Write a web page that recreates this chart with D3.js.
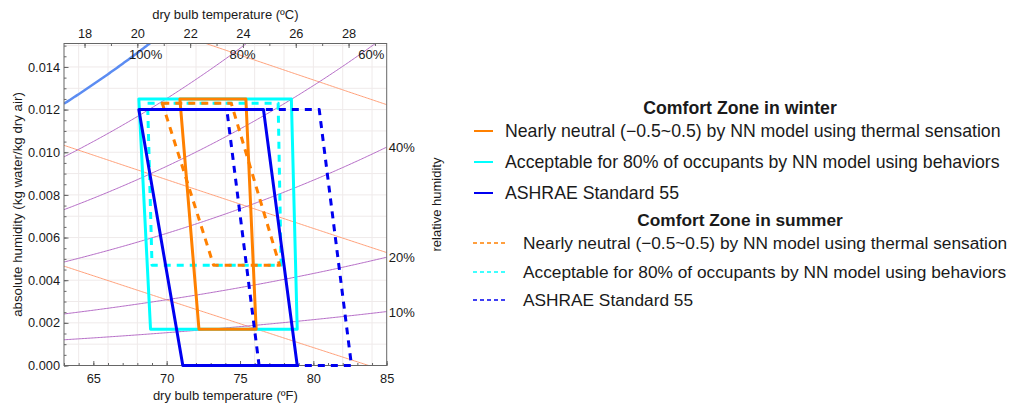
<!DOCTYPE html>
<html>
<head>
<meta charset="utf-8">
<script src="https://cdn.jsdelivr.net/npm/d3@7"></script>
<style>
  body { margin: 0; background: #fff; }
  text { font-family: "Liberation Sans", Arial, sans-serif; fill: #1a1a1a; }
</style>
</head>
<body>
<svg id="chart" width="1009" height="403"></svg>
<script>
// ---- axis ranges and ticks ----
const tempDomainF = [63, 85];
const humidityDomain = [0, 0.0151];
const fahrenheitTicks = [65, 70, 75, 80, 85];
const celsiusTicks = [18, 20, 22, 24, 26, 28];
const humidityTicks = [0, 0.002, 0.004, 0.006, 0.008, 0.010, 0.012, 0.014];

// ---- psychrometric reference lines ----
const rhLevels = [1.0, 0.8, 0.6, 0.4, 0.2, 0.1];
const rhTopLabels = ["100%", "80%", "60%"];
const rhSideLabels = ["40%", "20%", "10%"];
const wetBulbF = [50, 60, 70];

// ---- comfort zones: [dry bulb °F, humidity ratio kg/kg] ----
const winterNeutral    = [[70.9, 0.0125], [75.4, 0.0125], [76.1, 0.0017], [72.2, 0.0017]];
const winterAcceptable = [[68.1, 0.0125], [78.5, 0.0125], [78.9, 0.0017], [68.9, 0.0017]];
const winterAshrae     = [[68.1, 0.0120], [76.6, 0.0120], [78.9, 0.0], [71.1, 0.0]];
const summerNeutral    = [[69.7, 0.0123], [74.4, 0.0123], [77.7, 0.0047], [73.2, 0.0047]];
const summerAcceptable = [[68.7, 0.0123], [77.6, 0.0123], [77.8, 0.0047], [69.0, 0.0047]];
const summerAshrae     = [[74.1, 0.0120], [80.4, 0.0120], [82.6, 0.0], [76.3, 0.0]];

const zoneNames = [
  "Nearly neutral (\u22120.5~0.5) by NN model using thermal sensation",
  "Acceptable for 80% of occupants by NN model using behaviors",
  "ASHRAE Standard 55"
];
const zoneColors = ["#ff8000", "#00ffff", "#0000f0"];

// ---- layout ----
const svg = d3.select("#chart");
const plot = { left: 64, right: 386.7, top: 43.5, bottom: 365.5 };

const fToC = f => (f - 32) * 5 / 9;

const x = d3.scaleLinear().domain(tempDomainF).range([plot.left, plot.right]);
const xc = d3.scaleLinear().domain(tempDomainF.map(fToC)).range([plot.left, plot.right]);
const y = d3.scaleLinear().domain(humidityDomain).range([plot.bottom, plot.top]);

// psychrometric relations (sea level)
const P = 101.325;
const psat = tc => 0.61094 * Math.exp(17.625 * tc / (tc + 243.04));
const wFromRH = (tf, phi) => { const pv = phi * psat(fToC(tf)); return 0.622 * pv / (P - pv); };
const wFromWetBulb = (tf, twbF) => {
  const t = fToC(tf), tw = fToC(twbF);
  const ws = 0.622 * psat(tw) / (P - psat(tw));
  return ((2501 - 2.326 * tw) * ws - 1.006 * (t - tw)) / (2501 + 1.86 * t - 4.186 * tw);
};

svg.append("defs").append("clipPath").attr("id", "plotClip")
  .append("rect")
  .attr("x", plot.left).attr("y", plot.top)
  .attr("width", plot.right - plot.left).attr("height", plot.bottom - plot.top);

// faint grid
const grid = svg.append("g").attr("stroke", "#efeaea").attr("stroke-width", 1);
d3.range(64, 85, 2).forEach(t => grid.append("line")
  .attr("x1", x(t)).attr("x2", x(t)).attr("y1", plot.top).attr("y2", plot.bottom));
d3.range(0.001, 0.0151, 0.001).forEach(w => grid.append("line")
  .attr("x1", plot.left).attr("x2", plot.right).attr("y1", y(w)).attr("y2", y(w)));

const curves = svg.append("g").attr("clip-path", "url(#plotClip)");
const tSamples = d3.range(tempDomainF[0], tempDomainF[1] + 0.001, 0.1);
const line = d3.line().x(d => x(d[0])).y(d => y(d[1]));

// wet-bulb lines
wetBulbF.forEach(twb => {
  curves.append("path")
    .attr("d", line(tSamples.map(t => [t, wFromWetBulb(t, twb)])))
    .attr("fill", "none").attr("stroke", "#ffa07a").attr("stroke-width", 1);
});

// relative humidity curves
rhLevels.forEach(phi => {
  curves.append("path")
    .attr("d", line(tSamples.map(t => [t, wFromRH(t, phi)])))
    .attr("fill", "none")
    .attr("stroke", phi === 1 ? "#5b8cf2" : "#b56cc6")
    .attr("stroke-width", phi === 1 ? 2.5 : 1);
});

// labels of the RH curves along the top edge and right edge
const topW = humidityDomain[1];
rhTopLabels.forEach((lab, i) => {
  const phi = rhLevels[i];
  // dry bulb temperature where the curve meets the top edge
  const pv = topW * P / (0.622 + topW) / phi;
  const L = Math.log(pv / 0.61094);
  const tc = L * 243.04 / (17.625 - L);
  svg.append("text").attr("x", xc(tc) - 4).attr("y", plot.top + 15)
    .attr("text-anchor", "middle").attr("font-size", "13px").text(lab);
});
rhSideLabels.forEach((lab, i) => {
  const phi = rhLevels[i + 3];
  svg.append("text").attr("x", plot.right + 2).attr("y", y(wFromRH(tempDomainF[1], phi)) + 5)
    .attr("font-size", "13px").text(lab);
});

// frame
svg.append("rect")
  .attr("x", plot.left).attr("y", plot.top)
  .attr("width", plot.right - plot.left).attr("height", plot.bottom - plot.top)
  .attr("fill", "none").attr("stroke", "#666").attr("stroke-width", 1);

// axes (ticks point inward)
function styleAxis(g) {
  g.select(".domain").remove();
  g.selectAll(".tick line").attr("stroke", "#666");
  g.selectAll(".tick text").attr("font-size", "12.8px")
    .attr("font-family", "'Liberation Sans', Arial, sans-serif").attr("fill", "#1a1a1a");
}
svg.append("g").attr("transform", `translate(0,${plot.bottom})`)
  .call(d3.axisBottom(x).tickValues(d3.range(63, 86, 1)).tickSize(-2.5).tickFormat(""))
  .call(styleAxis);
svg.append("g").attr("transform", `translate(0,${plot.bottom})`)
  .call(d3.axisBottom(x).tickValues(fahrenheitTicks).tickSize(-4.5).tickPadding(8).tickFormat(d3.format("d")))
  .call(styleAxis);
svg.append("g").attr("transform", `translate(0,${plot.top})`)
  .call(d3.axisTop(xc).tickValues(d3.range(18, 30, 1)).tickSize(-2.5).tickFormat(""))
  .call(styleAxis);
svg.append("g").attr("transform", `translate(0,${plot.top})`)
  .call(d3.axisTop(xc).tickValues(celsiusTicks).tickSize(-4.5).tickPadding(6).tickFormat(d3.format("d")))
  .call(styleAxis);
svg.append("g").attr("transform", `translate(${plot.left},0)`)
  .call(d3.axisLeft(y).tickValues(d3.range(0, 0.0151, 0.0005)).tickSize(-2.5).tickFormat(""))
  .call(styleAxis);
svg.append("g").attr("transform", `translate(${plot.left},0)`)
  .call(d3.axisLeft(y).tickValues(humidityTicks).tickSize(-4.5).tickPadding(4).tickFormat(d3.format(".3f")))
  .call(styleAxis);

// comfort zones
const zoneLine = d3.line().x(d => x(d[0])).y(d => y(d[1])).curve(d3.curveLinearClosed);
const zones = svg.append("g").attr("fill", "none").attr("stroke-width", 3)
  .attr("stroke-linejoin", "round");
[
  [summerAcceptable, 1, true],
  [winterAcceptable, 1, false],
  [summerNeutral, 0, true],
  [winterNeutral, 0, false],
  [winterAshrae, 2, false],
  [summerAshrae, 2, true]
].forEach(([pts, ci, dashed]) => {
  zones.append("path").attr("d", zoneLine(pts))
    .attr("stroke", zoneColors[ci])
    .attr("stroke-dasharray", dashed ? "7,6" : null);
});

// axis titles
svg.append("text").attr("x", (plot.left + plot.right) / 2).attr("y", 19)
  .attr("text-anchor", "middle").attr("font-size", "13px").text("dry bulb temperature (\u00baC)");
svg.append("text").attr("x", (plot.left + plot.right) / 2).attr("y", 400)
  .attr("text-anchor", "middle").attr("font-size", "13px").text("dry bulb temperature (\u00baF)");
svg.append("text").attr("transform", `translate(22,${(plot.top + plot.bottom) / 2}) rotate(-90)`)
  .attr("text-anchor", "middle").attr("font-size", "13.3px").text("absolute humidity (kg water/kg dry air)");
svg.append("text").attr("transform", `translate(441,${(plot.top + plot.bottom) / 2}) rotate(-90)`)
  .attr("text-anchor", "middle").attr("font-size", "13px").text("relative humidity");

// legends
function legend(title, titleY, rowYs, dashed, fontSize, swatch, textX) {
  const g = svg.append("g");
  g.append("text").attr("x", 740).attr("y", titleY).attr("text-anchor", "middle")
    .attr("font-size", fontSize).attr("font-weight", "bold").text(title);
  zoneNames.forEach((name, i) => {
    g.append("line").attr("x1", swatch[0]).attr("x2", swatch[1])
      .attr("y1", rowYs[i]).attr("y2", rowYs[i])
      .attr("stroke", zoneColors[i]).attr("stroke-width", dashed ? 1.5 : 2)
      .attr("stroke-dasharray", dashed ? "4,3" : null);
    g.append("text").attr("x", textX).attr("y", rowYs[i] + 6)
      .attr("font-size", fontSize).text(name);
  });
}
legend("Comfort Zone in winter", 114, [131, 162, 193], false, "17.7px", [474, 493], 505);
legend("Comfort Zone in summer", 226, [243, 272, 300], true, "17.3px", [473, 506], 523);
</script>
</body>
</html>
